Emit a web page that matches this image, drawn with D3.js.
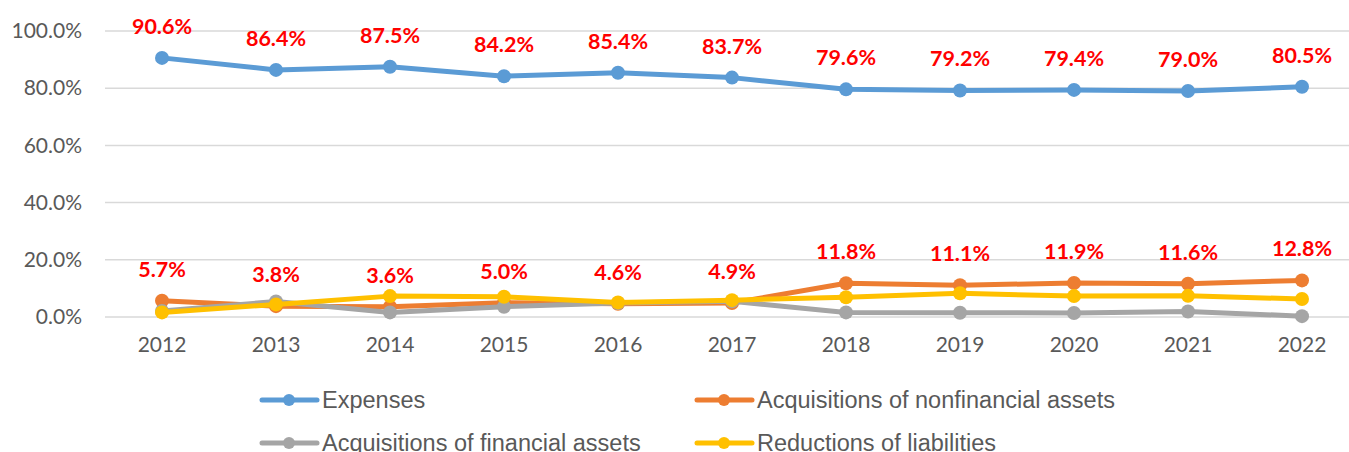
<!DOCTYPE html>
<html><head><meta charset="utf-8">
<script src="https://cdn.jsdelivr.net/npm/d3@7"></script>
<style>body{margin:0;background:#fff}svg{display:block}</style>
</head><body>
<svg id="c" width="1349" height="452"></svg>
<script>
const years = ["2012","2013","2014","2015","2016","2017","2018","2019","2020","2021","2022"];
const expenses = [90.6,86.4,87.5,84.2,85.4,83.7,79.6,79.2,79.4,79.0,80.5];
const nonfinancial = [5.7,3.8,3.6,5.0,4.6,4.9,11.8,11.1,11.9,11.6,12.8];
const financial = [2.1,5.4,1.6,3.6,4.9,5.5,1.6,1.5,1.4,1.9,0.3];
const liabilities = [1.6,4.4,7.3,7.1,5.1,5.9,6.9,8.3,7.3,7.4,6.3];
const yTicks = [0,20,40,60,80,100];
const seriesNames = ["Expenses","Acquisitions of nonfinancial assets","Acquisitions of financial assets","Reductions of liabilities"];
const colors = ["#5B9BD5","#ED7D31","#A5A5A5","#FFC000"];
const labelled = [true,true,false,false];

const series = [expenses,nonfinancial,financial,liabilities];
const svg = d3.select("#c");
const x = d3.scaleBand().domain(years).range([105,1359]);
const y = d3.scaleLinear().domain([0,100]).range([317,31]);
const cx = d => x(d)+x.bandwidth()/2;

// gridlines
svg.append("g").selectAll("line").data(yTicks).join("line")
  .attr("x1",105).attr("x2",1359)
  .attr("y1",d=>y(d)).attr("y2",d=>y(d))
  .attr("stroke","#D9D9D9").attr("stroke-width",1.5);

// y axis labels
const yAxis = d3.axisLeft(y).tickValues(yTicks).tickFormat(d=>d.toFixed(1)+"%").tickSize(0).tickPadding(0);
const ya = svg.append("g").attr("transform","translate(82,0)").call(yAxis);
ya.select(".domain").remove();
ya.selectAll("text").attr("font-family","Lato").attr("font-size",21).attr("fill","#595959");

// x axis labels
const xAxis = d3.axisBottom(x).tickSize(0).tickPadding(0);
const xa = svg.append("g").attr("transform","translate(0,337)").call(xAxis);
xa.select(".domain").remove();
xa.selectAll("text").attr("font-family","Lato").attr("font-size",21).attr("fill","#595959");

const line = d3.line().x((d,i)=>cx(years[i])).y(d=>y(d));
series.forEach((s,k)=>{
  const g = svg.append("g");
  g.append("path").attr("d",line(s)).attr("fill","none").attr("stroke",colors[k])
    .attr("stroke-width",5).attr("stroke-linejoin","round");
  g.selectAll("circle").data(s).join("circle")
    .attr("cx",(d,i)=>cx(years[i])).attr("cy",d=>y(d)).attr("r",7).attr("fill",colors[k]);
});
series.forEach((s,k)=>{
  if(!labelled[k]) return;
  svg.append("g").selectAll("text").data(s).join("text")
    .attr("x",(d,i)=>cx(years[i])).attr("y",d=>y(d)-24)
    .attr("text-anchor","middle").attr("font-family","Lato").attr("font-weight","bold")
    .attr("font-size",21.5).attr("fill","#FF0000").text(d=>d.toFixed(1)+"%");
});

// legend
const legPos = [[262,400],[697,400],[262,443],[697,443]];
seriesNames.forEach((n,k)=>{
  const [lx,ly] = legPos[k];
  const g = svg.append("g");
  g.append("line").attr("x1",lx).attr("x2",lx+55).attr("y1",ly).attr("y2",ly)
    .attr("stroke",colors[k]).attr("stroke-width",5).attr("stroke-linecap","round");
  g.append("circle").attr("cx",lx+27).attr("cy",ly).attr("r",6).attr("fill",colors[k]);
  g.append("text").attr("x",lx+60).attr("y",ly).attr("dy","0.36em")
    .attr("font-family","Liberation Sans").attr("font-size",23.5).attr("fill","#595959").text(n);
});
</script>
</body></html>
